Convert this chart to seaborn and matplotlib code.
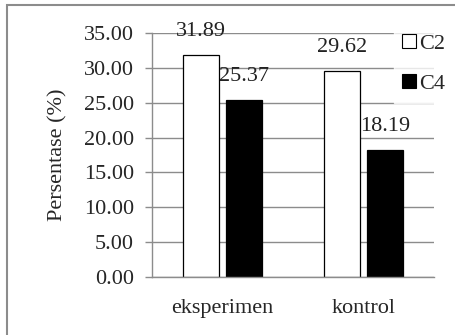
import pandas as pd
import matplotlib.pyplot as plt
import seaborn as sns
from matplotlib.patches import Rectangle

groups = ['eksperimen', 'kontrol']
series = ['C2', 'C4']
c2_values = [31.89, 29.62]
c4_values = [25.37, 18.19]
yticks = [0, 5, 10, 15, 20, 25, 30, 35]

df = pd.DataFrame({
    'group': groups * 2,
    'series': ['C2'] * len(groups) + ['C4'] * len(groups),
    'value': c2_values + c4_values,
})

sns.set_style('white')
plt.rcParams['font.family'] = ['Liberation Serif', 'DejaVu Serif']

fig = plt.figure(figsize=(4.55, 3.35), dpi=100)
ax = fig.add_axes([0.334, 0.173, 0.62, 0.7285])

sns.barplot(data=df, x='group', y='value', hue='series', order=groups,
            hue_order=series, palette={'C2': 'white', 'C4': 'black'},
            edgecolor='black', linewidth=0.9, width=0.6, gap=0.15,
            ax=ax, legend=False)

# data labels above each bar
for cont in ax.containers:
    ax.bar_label(cont, fmt='%.2f', padding=10, fontsize=16, color='#222222')

ax.set_ylim(0, 35)
ax.set_yticks(yticks)
ax.set_yticklabels([f'{v:.2f}' for v in yticks], fontsize=16)
ax.set_xlim(-0.5, 1.5)
ax.tick_params(axis='x', length=0, labelsize=16, pad=16)
ax.tick_params(axis='y', length=5, width=1, color='#8c8c8c', pad=8,
               direction='out', left=True)
ax.yaxis.grid(True, color='#8c8c8c', linewidth=1)
ax.set_axisbelow(True)
for s in ['top', 'right']:
    ax.spines[s].set_visible(False)
for s in ['left', 'bottom']:
    ax.spines[s].set_color('#8c8c8c')
    ax.spines[s].set_linewidth(1)
ax.set_xlabel('')
ax.set_ylabel('Persentase (%)', fontsize=16, labelpad=12)

handles = [Rectangle((0, 0), 1, 1, facecolor='white', edgecolor='black', lw=0.8),
           Rectangle((0, 0), 1, 1, facecolor='black', edgecolor='black', lw=0.8)]
leg = fig.legend(handles, series, loc='upper left', bbox_to_anchor=(0.865, 0.925),
                 fontsize=16, frameon=True, fancybox=False, handlelength=0.6,
                 handleheight=0.6, handletextpad=0.15, labelspacing=0.9,
                 borderpad=0.4, borderaxespad=0)
leg.get_frame().set_facecolor('white')
leg.get_frame().set_edgecolor('white')

# outer frame
fig.patches.append(Rectangle((7 / 455, -0.1), 1.2, 1 - 5 / 335 + 0.1,
                             transform=fig.transFigure, fill=False,
                             edgecolor='#8c8c8c', linewidth=1.5))

fig.savefig('out.png', dpi=100)
